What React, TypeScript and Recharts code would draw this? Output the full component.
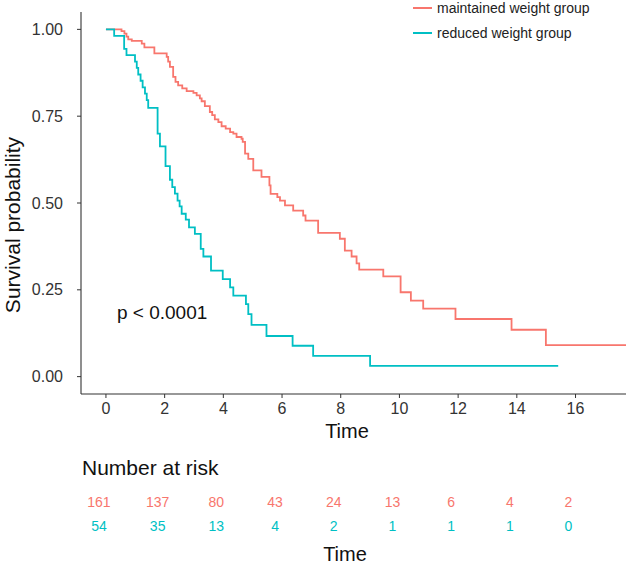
import React from 'react';
import { LineChart, Line, XAxis, YAxis, LabelList, ReferenceDot } from 'recharts';

// Kaplan-Meier steps (time in years, survival probability)
const maintainedTimes = [0, 0.53, 0.63, 0.7, 0.76, 0.88, 1.22, 1.31, 1.65, 2.07, 2.12, 2.18, 2.29, 2.37, 2.46, 2.6, 2.75, 2.98, 3.09, 3.2, 3.26, 3.37, 3.54, 3.62, 3.71, 3.83, 3.94, 4.08, 4.23, 4.34, 4.45, 4.62, 4.66, 4.74, 4.85, 5.02, 5.3, 5.57, 5.61, 5.84, 5.93, 6.1, 6.38, 6.72, 6.8, 7.23, 7.97, 8.14, 8.37, 8.54, 8.63, 9.45, 10.04, 10.39, 10.81, 11.91, 13.82, 14.99, 17.72];
const maintainedSurv = [1, 0.995, 0.988, 0.979, 0.971, 0.967, 0.959, 0.948, 0.931, 0.921, 0.907, 0.892, 0.863, 0.849, 0.839, 0.83, 0.822, 0.817, 0.81, 0.801, 0.793, 0.779, 0.762, 0.753, 0.741, 0.733, 0.721, 0.714, 0.704, 0.7, 0.69, 0.685, 0.676, 0.642, 0.627, 0.594, 0.575, 0.551, 0.526, 0.517, 0.507, 0.493, 0.478, 0.464, 0.449, 0.414, 0.397, 0.363, 0.346, 0.326, 0.308, 0.289, 0.243, 0.219, 0.196, 0.166, 0.135, 0.091, 0.091];

const reducedTimes = [0, 0.28, 0.62, 0.7, 0.99, 1.05, 1.1, 1.18, 1.25, 1.33, 1.39, 1.44, 1.76, 1.84, 2.03, 2.18, 2.26, 2.35, 2.44, 2.51, 2.58, 2.72, 2.83, 3.03, 3.23, 3.32, 3.58, 3.98, 4.23, 4.34, 4.77, 4.85, 4.96, 5.47, 6.36, 7.06, 9.0, 15.41];
const reducedSurv = [1, 0.981, 0.944, 0.926, 0.907, 0.889, 0.87, 0.852, 0.833, 0.815, 0.796, 0.774, 0.7, 0.663, 0.606, 0.567, 0.546, 0.527, 0.507, 0.49, 0.469, 0.452, 0.43, 0.411, 0.368, 0.346, 0.305, 0.281, 0.257, 0.233, 0.209, 0.18, 0.149, 0.117, 0.089, 0.06, 0.031, 0.031];

const xTicks = [0, 2, 4, 6, 8, 10, 12, 14, 16];
const yTicks = [0, 0.25, 0.5, 0.75, 1];

const riskTimes = [0, 2, 4, 6, 8, 10, 12, 14, 16];
const maintainedRisk = [161, 137, 80, 43, 24, 13, 6, 4, 2];
const reducedRisk = [54, 35, 13, 4, 2, 1, 1, 1, 0];

const groupNames = ['maintained weight group', 'reduced weight group'];
const pValueText = 'p < 0.0001';

const RED = '#F8766D';
const CYAN = '#00BFC4';
const FONT = '"Liberation Sans", Arial, sans-serif';
const X_DOMAIN: [number, number] = [-0.85, 17.72];

const maintainedData = maintainedTimes.map((t, i) => ({ t, s: maintainedSurv[i] }));
const reducedData = reducedTimes.map((t, i) => ({ t, s: reducedSurv[i] }));
const riskRedData = riskTimes.map((t, i) => ({ t, y: 1, n: maintainedRisk[i] }));
const riskCyanData = riskTimes.map((t, i) => ({ t, y: 0, n: reducedRisk[i] }));

const riskLabel = (color: string) => (props: any) => (
  <text
    x={props.x}
    y={props.y}
    textAnchor="middle"
    dominantBaseline="central"
    fill={color}
    fontSize={14}
    fontFamily={FONT}
  >
    {props.value}
  </text>
);

const title = (text: string, x: number, y: number, size: number, rotate = false) => (
  <div
    style={{
      position: 'absolute',
      left: x,
      top: y,
      transform: `translate(-50%, -50%)${rotate ? ' rotate(-90deg)' : ''}`,
      fontSize: size,
      color: '#111',
      whiteSpace: 'nowrap',
      lineHeight: 1,
    }}
  >
    {text}
  </div>
);

export default function App() {
  return (
    <div style={{ position: 'relative', width: 629, height: 566, fontFamily: FONT, background: '#fff', overflow: 'hidden' }}>
      <style>{'body{margin:0}'}</style>

      <LineChart width={629} height={450} margin={{ top: 12, right: 3, bottom: 26, left: 0 }}>
        <XAxis
          type="number"
          dataKey="t"
          domain={X_DOMAIN}
          ticks={xTicks}
          allowDataOverflow
          height={30}
          tickSize={4}
          tickMargin={5}
          axisLine={{ stroke: '#333', strokeWidth: 1.1 }}
          tickLine={{ stroke: '#333' }}
          tick={{ fill: '#333', fontSize: 16, fontFamily: FONT }}
        />
        <YAxis
          type="number"
          domain={[-0.05, 1.05]}
          ticks={yTicks}
          allowDataOverflow
          width={81}
          tickSize={4}
          tickMargin={14}
          tickFormatter={(v: number) => v.toFixed(2)}
          axisLine={{ stroke: '#333', strokeWidth: 1.1 }}
          tickLine={{ stroke: '#333' }}
          tick={{ fill: '#333', fontSize: 16, fontFamily: FONT }}
        />
        <Line
          data={maintainedData}
          dataKey="s"
          type="stepAfter"
          stroke={RED}
          strokeWidth={1.8}
          dot={false}
          isAnimationActive={false}
        />
        <Line
          data={reducedData}
          dataKey="s"
          type="stepAfter"
          stroke={CYAN}
          strokeWidth={1.8}
          dot={false}
          isAnimationActive={false}
        />
        <ReferenceDot
          x={0.375}
          y={0.184}
          r={0}
          fill="none"
          stroke="none"
          label={{ value: pValueText, position: 'right', offset: 0, fontSize: 19, fill: '#111', fontFamily: FONT }}
        />
      </LineChart>

      {/* legend */}
      <div style={{ position: 'absolute', left: 413, top: 0, fontSize: 14, color: '#222' }}>
        {[RED, CYAN].map((c, i) => (
          <div key={i} style={{ position: 'absolute', top: i === 0 ? 8 : 33, left: 0, display: 'flex', alignItems: 'center', transform: 'translateY(-50%)', whiteSpace: 'nowrap' }}>
            <span style={{ display: 'inline-block', width: 19, height: 2, background: c, marginRight: 5 }} />
            <span>{groupNames[i]}</span>
          </div>
        ))}
      </div>

      {title('Survival probability', 12, 225, 21, true)}
      {title('Time', 347, 431, 20)}

      <div style={{ position: 'absolute', left: 82, top: 467, transform: 'translateY(-50%)', fontSize: 21, color: '#111', lineHeight: 1 }}>
        Number at risk
      </div>

      <div style={{ position: 'absolute', left: 0, top: 490 }}>
        <LineChart width={629} height={50} margin={{ top: 12, right: 10, bottom: 14, left: 74 }}>
          <XAxis type="number" dataKey="t" domain={X_DOMAIN} hide />
          <YAxis type="number" domain={[0, 1]} hide />
          <Line data={riskRedData} dataKey="y" stroke="none" dot={false} isAnimationActive={false}>
            <LabelList dataKey="n" content={riskLabel(RED)} />
          </Line>
          <Line data={riskCyanData} dataKey="y" stroke="none" dot={false} isAnimationActive={false}>
            <LabelList dataKey="n" content={riskLabel(CYAN)} />
          </Line>
        </LineChart>
      </div>

      {title('Time', 345, 554, 20)}
    </div>
  );
}
